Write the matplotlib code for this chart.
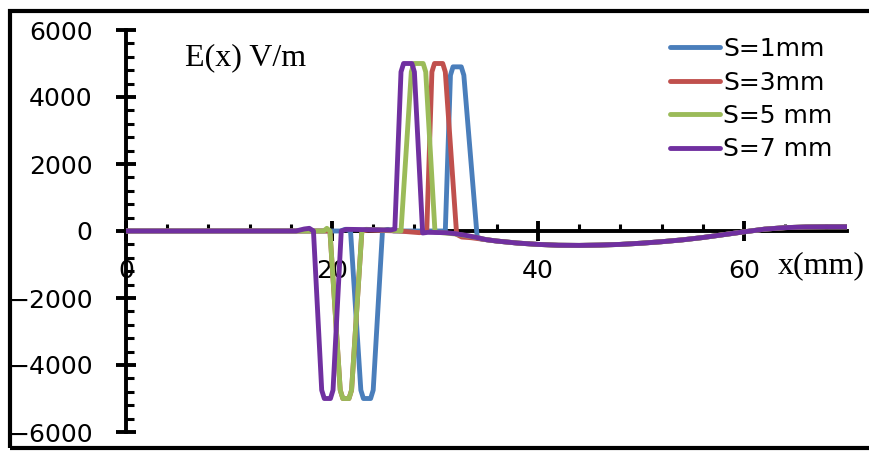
import matplotlib
matplotlib.use("Agg")
import matplotlib.pyplot as plt
from matplotlib.patches import Rectangle
from matplotlib.ticker import MultipleLocator

# shared slow tail after the pulses (x in mm, E in V/m)
tail_x = [35, 36, 38, 40, 42, 44, 46, 48, 50, 52, 54, 56, 58, 60, 62, 64, 66, 68, 70]
tail_y = [-260, -300, -360, -400, -425, -430, -420, -400, -365, -320, -265, -195, -110, -25, 55, 100, 120, 125, 125]

# S = 1 mm
s1_x = [0, 16, 20.8, 21.3, 21.8, 22.8, 23.05, 23.75, 24.0, 24.9, 25.4, 26.0,
        30.5, 31.0, 31.5, 31.75, 32.55, 32.8, 34.1, 34.5]
s1_y = [0, 0, 0, 50, 0, -4750, -5000, -5000, -4750, 0, 50, 0,
        0, 0, 4650, 4900, 4900, 4650, -200, -240]

# S = 3 mm
s3_x = [0, 16, 19.8, 20.8, 21.05, 21.65, 21.9, 22.9, 23.5, 26.5, 28.5,
        29.2, 29.7, 29.95, 30.75, 31.0, 32.1, 32.6, 33.5, 34.5]
s3_y = [0, 0, 0, -4750, -5000, -5000, -4750, 0, 30, 0, -50,
        0, 4750, 5000, 5000, 4750, -100, -180, -200, -240]

# S = 5 mm
s5_x = [0, 16, 19.2, 19.5, 19.8, 20.8, 21.05, 21.65, 21.9, 22.9, 23.3, 26.0,
        26.7, 27.7, 27.95, 28.85, 29.1, 30.0, 31.0, 32.0, 33.0, 34.0]
s5_y = [0, 0, 0, 80, 0, -4750, -5000, -5000, -4750, 0, 50, 20,
        0, 4750, 5000, 5000, 4750, -30, -60, -90, -140, -190]

# S = 7 mm
s7_x = [0, 16.5, 17.3, 17.8, 18.2, 19.0, 19.25, 19.85, 20.1, 20.9, 21.4, 25.7,
        26.1, 26.7, 26.95, 27.75, 28.0, 28.8, 29.3, 31.0, 32.0, 33.0, 34.0]
s7_y = [0, 0, 60, 80, 0, -4750, -5000, -5000, -4750, 0, 50, 30,
        60, 4750, 5000, 5000, 4750, -60, -40, -50, -80, -130, -190]

labels = ["S=1mm", "S=3mm", "S=5 mm", "S=7 mm"]
colors = ["#4a7ebb", "#c0504d", "#9bbb59", "#7030a0"]

fig = plt.figure(figsize=(8.7, 4.51), dpi=100)
ax = fig.add_axes([126 / 870, 1 - 432 / 451, (847 - 126) / 870, (432 - 30) / 451])

series = [(s1_x, s1_y), (s3_x, s3_y), (s5_x, s5_y), (s7_x, s7_y)]
for (xs, ys), lab, c in zip(series, labels, colors):
    ax.plot(xs + tail_x, ys + tail_y, color=c, lw=3.5, label=lab,
            solid_joinstyle="round", solid_capstyle="round")

ax.set_xlim(0, 70)
ax.set_ylim(-6000, 6000)

# excel style axes crossing at zero
ax.spines["left"].set_position(("data", 0))
ax.spines["bottom"].set_position(("data", 0))
ax.spines["top"].set_visible(False)
ax.spines["right"].set_visible(False)
for s in ["left", "bottom"]:
    ax.spines[s].set_linewidth(2.8)
    ax.spines[s].set_zorder(1)

ax.set_xticks([0, 20, 40, 60])
ax.set_yticks([-6000, -4000, -2000, 0, 2000, 4000, 6000])
ax.xaxis.set_minor_locator(MultipleLocator(4))
ax.yaxis.set_minor_locator(MultipleLocator(400))
ax.tick_params(axis="both", which="major", direction="inout", length=14, width=2.8,
               labelsize=18)
ax.tick_params(axis="x", which="major", pad=13)
ax.tick_params(axis="y", which="major", pad=17)
ax.tick_params(axis="x", which="minor", direction="in", length=5, width=2.2)
ax.tick_params(axis="y", which="minor", direction="in", length=6, width=2.2)

ax.text(5.7, 4950, "E(x) V/m", family="Liberation Serif", fontsize=23, va="baseline")
ax.text(63.3, -1250, "x(mm)", family="Liberation Serif", fontsize=23, va="baseline")

leg = ax.legend(loc="upper left", bbox_to_anchor=(670 / 870, 1 - 37 / 451),
                bbox_transform=fig.transFigure, frameon=False, fontsize=18,
                borderpad=0, borderaxespad=0, handlelength=2.0,
                handletextpad=0.12, labelspacing=0.38)

fig.patches.append(Rectangle((10 / 870, 1 - 448 / 451), 1.0, (448 - 11) / 451,
                             transform=fig.transFigure, fill=False,
                             edgecolor="black", lw=3))

fig.savefig("out.png", dpi=100)
